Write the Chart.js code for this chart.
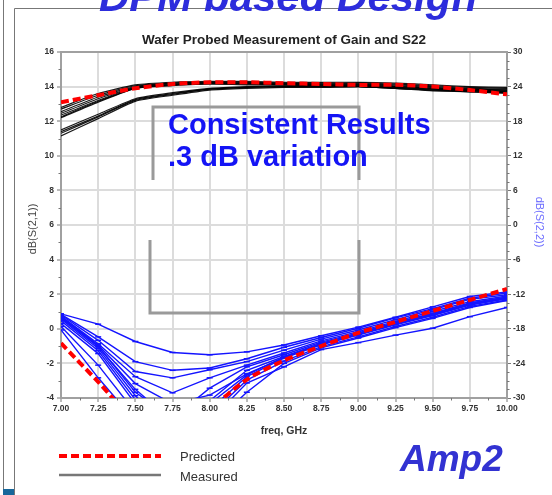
<!DOCTYPE html>
<html><head><meta charset="utf-8">
<script src="https://cdn.jsdelivr.net/npm/chart.js@4.4.0/dist/chart.umd.min.js"></script>
<style>html,body{margin:0;padding:0;background:#fff;overflow:hidden}canvas{display:block}</style>
</head><body>
<canvas id="c" width="552" height="495"></canvas>
<script>
// ---- data ----
const freqs = [7.00, 7.25, 7.50, 7.75, 8.00, 8.25, 8.50, 8.75, 9.00, 9.25, 9.50, 9.75, 10.00];
const xTicks = [7.00, 7.25, 7.50, 7.75, 8.00, 8.25, 8.50, 8.75, 9.00, 9.25, 9.50, 9.75, 10.00];
const gainTicks = [-4, -2, 0, 2, 4, 6, 8, 10, 12, 14, 16];
const s22Ticks = [-30, -24, -18, -12, -6, 0, 6, 12, 18, 24, 30];

const gainPredicted = [13.1, 13.5, 13.9, 14.15, 14.25, 14.25, 14.2, 14.15, 14.1, 14.1, 14.0, 13.8, 13.55];
const s22Predicted = [-20.5, -27.2, -34, -37, -32, -26.8, -23.5, -21.0, -18.7, -16.8, -14.9, -13.0, -11.1];

const gainM1 = [12.8, 13.6, 14.1, 14.25, 14.3, 14.3, 14.25, 14.25, 14.25, 14.2, 14.1, 14.0, 13.95];
const gainM2 = [12.7, 13.5, 14.05, 14.2, 14.25, 14.25, 14.2, 14.2, 14.2, 14.15, 14.05, 13.95, 13.9];
const gainM3 = [12.55, 13.4, 14.0, 14.2, 14.25, 14.2, 14.2, 14.15, 14.15, 14.1, 14.0, 13.9, 13.85];
const gainM4 = [12.45, 13.3, 13.95, 14.15, 14.2, 14.2, 14.15, 14.15, 14.15, 14.05, 13.95, 13.85, 13.8];
const gainM5 = [12.35, 13.2, 13.95, 14.1, 14.2, 14.15, 14.15, 14.1, 14.1, 14.0, 13.9, 13.85, 13.8];
const gainM6 = [12.25, 13.15, 13.9, 14.1, 14.15, 14.15, 14.1, 14.1, 14.1, 14.0, 13.9, 13.8, 13.75];
const gainM7 = [12.2, 13.1, 13.9, 14.05, 14.15, 14.1, 14.1, 14.05, 14.05, 13.95, 13.85, 13.8, 13.7];
const gainM8 = [11.5, 12.4, 13.3, 13.65, 13.9, 14.0, 14.05, 14.05, 14.05, 13.95, 13.85, 13.75, 13.7];
const gainM9 = [11.4, 12.3, 13.25, 13.6, 13.85, 13.95, 14.0, 14.0, 14.0, 13.9, 13.8, 13.75, 13.65];
const gainM10 = [11.3, 12.25, 13.2, 13.55, 13.85, 13.95, 14.0, 14.0, 14.0, 13.9, 13.8, 13.7, 13.65];
const gainM11 = [11.15, 12.15, 13.15, 13.5, 13.8, 13.9, 13.95, 13.95, 14.0, 13.9, 13.75, 13.7, 13.6];

const s22M1 = [-15.4, -17.2, -20.2, -22.1, -22.5, -22.0, -20.8, -19.2, -17.7, -16.0, -14.2, -12.4, -11.6];
const s22M2 = [-15.5, -19.4, -23.7, -25.2, -24.8, -23.2, -21.2, -19.5, -17.9, -16.1, -14.5, -12.7, -11.8];
const s22M3 = [-15.6, -20.0, -25.4, -26.5, -25.1, -23.7, -21.7, -19.8, -18.2, -16.4, -14.7, -12.9, -12.1];
const s22M4 = [-15.8, -20.6, -26.3, -29.1, -26.5, -24.3, -22.2, -20.1, -18.5, -16.7, -15.0, -13.3, -12.3];
const s22M5 = [-16.0, -21.0, -29.0, -33.5, -28.3, -24.6, -22.5, -20.3, -18.7, -16.9, -15.3, -13.5, -12.5];
const s22M6 = [-16.3, -21.4, -29.6, -36.0, -30.5, -25.2, -22.8, -20.5, -18.9, -17.1, -15.5, -13.7, -12.6];
const s22M7 = [-16.6, -21.8, -30.3, -38.0, -32.0, -26.3, -23.1, -20.8, -19.1, -17.3, -15.7, -13.9, -12.8];
const s22M8 = [-17.1, -22.3, -31.0, -37.0, -33.0, -26.9, -23.6, -21.1, -19.4, -17.6, -16.0, -14.1, -13.0];
const s22M9 = [-17.6, -24.3, -32.5, -36.0, -34.0, -27.4, -24.6, -21.6, -20.4, -19.1, -17.9, -15.9, -14.3];
const s22M10 = [-18.2, -26.5, -34.0, -38.0, -35.0, -29.0, -24.0, -21.3, -19.6, -17.8, -16.2, -14.3, -13.1];
const s22M11 = [-15.9, -20.8, -27.5, -31.0, -29.5, -25.8, -23.0, -20.6, -18.8, -17.0, -15.4, -13.6, -12.5];
const s22M12 = [-16.1, -21.1, -28.5, -34.0, -31.0, -26.0, -22.9, -20.7, -19.0, -17.2, -15.6, -13.8, -12.7];

const gainMeasured = [gainM1, gainM2, gainM3, gainM4, gainM5, gainM6, gainM7, gainM8, gainM9, gainM10, gainM11];
const s22Measured = [s22M1, s22M2, s22M3, s22M4, s22M5, s22M6, s22M7, s22M8, s22M9, s22M10, s22M11, s22M12];

// ---- build ----
const FONT = "'Liberation Sans', Arial, Helvetica, sans-serif";
const pts = arr => arr.map((v, i) => ({x: freqs[i], y: v}));

const datasets = [];
datasets.push({data: pts(gainPredicted), yAxisID: 'y', borderColor: '#ff0000', borderWidth: 4, borderDash: [8, 4], pointRadius: 0, tension: 0.3, order: 0});
datasets.push({data: pts(s22Predicted), yAxisID: 'y2', borderColor: '#ff0000', borderWidth: 4, borderDash: [8, 4], pointRadius: 0, tension: 0.3, order: 0});
s22Measured.forEach(a => datasets.push({data: pts(a), yAxisID: 'y2', borderColor: 'rgb(20,20,255)', borderWidth: 1.4,
  pointStyle: 'line', pointRadius: 3, pointBorderWidth: 1.5, pointBorderColor: 'rgb(20,20,255)', tension: 0, order: 1}));
gainMeasured.forEach(a => datasets.push({data: pts(a), yAxisID: 'y', borderColor: 'rgba(0,0,0,0.9)', borderWidth: 1.2,
  pointRadius: 0, tension: 0.2, order: 2}));

const tickFont = {family: FONT, size: 8.5, weight: 'bold'};

const deco = {
  id: 'deco',
  beforeDraw(chart) {
    const c = chart.ctx;
    c.save();
    c.fillStyle = '#fff';
    c.fillRect(0, 0, chart.width, chart.height);
    c.strokeStyle = '#777';
    c.lineWidth = 1;
    c.beginPath();
    c.moveTo(3.5, 0); c.lineTo(3.5, 489);
    c.moveTo(14.5, 495); c.lineTo(14.5, 8.5); c.lineTo(552, 8.5);
    c.stroke();
    c.fillStyle = '#17679b';
    c.fillRect(3, 489, 11, 6);
    c.restore();
  },
  afterDatasetsDraw(chart) {
    const c = chart.ctx, a = chart.chartArea;
    const xs = chart.scales.x, ys = chart.scales.y, y2 = chart.scales.y2;
    c.save();
    c.strokeStyle = '#a0a0a0'; c.lineWidth = 2;
    c.beginPath(); c.moveTo(a.left, a.top); c.lineTo(a.right, a.top); c.stroke();
    c.strokeStyle = '#777'; c.lineWidth = 1;
    c.beginPath();
    for (let f = 7.125; f < 10; f += 0.25) { const px = Math.round(xs.getPixelForValue(f)) + 0.5; c.moveTo(px, a.bottom); c.lineTo(px, a.bottom + 2.5); }
    for (let v = -3; v < 16; v += 2) { const py = Math.round(ys.getPixelForValue(v)) + 0.5; c.moveTo(a.left, py); c.lineTo(a.left - 2.5, py); }
    for (let v = -30; v < 30; v += 1.5) { if (v % 6 === 0) continue; const py = Math.round(y2.getPixelForValue(v)) + 0.5; c.moveTo(a.right, py); c.lineTo(a.right + 2.5, py); }
    c.stroke();
    c.strokeStyle = '#9a9a9a'; c.lineWidth = 3;
    c.beginPath();
    c.moveTo(153, 180); c.lineTo(153, 107); c.lineTo(359, 107); c.lineTo(359, 180);
    c.moveTo(150, 240); c.lineTo(150, 313); c.lineTo(359, 313); c.lineTo(359, 240);
    c.stroke();
    c.restore();
  },
  afterDraw(chart) {
    const c = chart.ctx, a = chart.chartArea;
    c.save();
    c.textBaseline = 'alphabetic';
    c.fillStyle = 'rgb(45,45,220)';
    c.font = `italic bold 42px ${FONT}`;
    c.textAlign = 'left';
    c.fillText('DPM based Design', 99, 11);
    c.fillStyle = '#222';
    c.font = `bold 13.5px ${FONT}`;
    c.textAlign = 'center';
    c.fillText('Wafer Probed Measurement of Gain and S22', (a.left + a.right) / 2, 44);
    c.font = `bold 10.5px ${FONT}`;
    c.fillStyle = '#333';
    c.fillText('freq, GHz', (a.left + a.right) / 2, 434);
    c.save();
    c.translate(33, 229); c.rotate(-Math.PI / 2);
    c.font = `11px ${FONT}`; c.fillStyle = '#444'; c.textBaseline = 'middle';
    c.fillText('dB(S(2,1))', 0, 0);
    c.restore();
    c.save();
    c.translate(539, 222); c.rotate(Math.PI / 2);
    c.font = `11px ${FONT}`; c.fillStyle = 'rgb(110,110,255)'; c.textBaseline = 'middle';
    c.fillText('dB(S(2,2))', 0, 0);
    c.restore();
    c.textAlign = 'left';
    c.fillStyle = 'rgb(20,20,245)';
    c.font = `bold 29px ${FONT}`;
    c.fillText('Consistent Results', 168, 134);
    c.fillText('.3 dB variation', 168, 166);
    c.strokeStyle = '#ff0000'; c.lineWidth = 4; c.setLineDash([8, 4]);
    c.beginPath(); c.moveTo(59, 456); c.lineTo(161, 456); c.stroke();
    c.setLineDash([]);
    c.strokeStyle = '#777'; c.lineWidth = 2.5;
    c.beginPath(); c.moveTo(59, 475); c.lineTo(161, 475); c.stroke();
    c.fillStyle = '#333'; c.font = `13px ${FONT}`; c.textBaseline = 'middle';
    c.fillText('Predicted', 180, 457);
    c.fillText('Measured', 180, 477);
    c.fillStyle = 'rgb(50,50,210)';
    c.font = `italic bold 37px ${FONT}`;
    c.textBaseline = 'alphabetic';
    c.fillText('Amp2', 400, 471);
    c.restore();
  }
};

new Chart(document.getElementById('c'), {
  type: 'line',
  data: {datasets},
  options: {
    responsive: false, animation: false, devicePixelRatio: 1,
    layout: {padding: {top: 52, left: 0, right: 0, bottom: 0}},
    plugins: {legend: {display: false}, tooltip: {enabled: false}, title: {display: false}},
    scales: {
      x: {type: 'linear', min: 7, max: 10,
        afterBuildTicks: s => { s.ticks = xTicks.map(v => ({value: v})); },
        ticks: {callback: v => Number(v).toFixed(2), font: tickFont, color: '#333', padding: 2, maxRotation: 0, autoSkip: false},
        grid: {color: '#dcdcdc', lineWidth: 2, tickLength: 4, tickColor: '#777', tickWidth: 1},
        border: {color: '#a0a0a0', width: 2},
        afterFit: s => { s.height = 97; }},
      y: {position: 'left', min: -4, max: 16,
        afterBuildTicks: s => { s.ticks = gainTicks.map(v => ({value: v})); },
        ticks: {font: tickFont, color: '#333', padding: 3},
        grid: {color: '#dcdcdc', lineWidth: 2, tickLength: 4, tickColor: '#777', tickWidth: 1},
        border: {color: '#a0a0a0', width: 2},
        afterFit: s => { s.width = 61; }},
      y2: {position: 'right', min: -30, max: 30,
        afterBuildTicks: s => { s.ticks = s22Ticks.map(v => ({value: v})); },
        ticks: {font: tickFont, color: '#333', padding: 2},
        grid: {drawOnChartArea: false, tickLength: 4, tickColor: '#777', tickWidth: 1},
        border: {color: '#a0a0a0', width: 2},
        afterFit: s => { s.width = 45; }}
    }
  },
  plugins: [deco]
});
</script>
</body></html>
